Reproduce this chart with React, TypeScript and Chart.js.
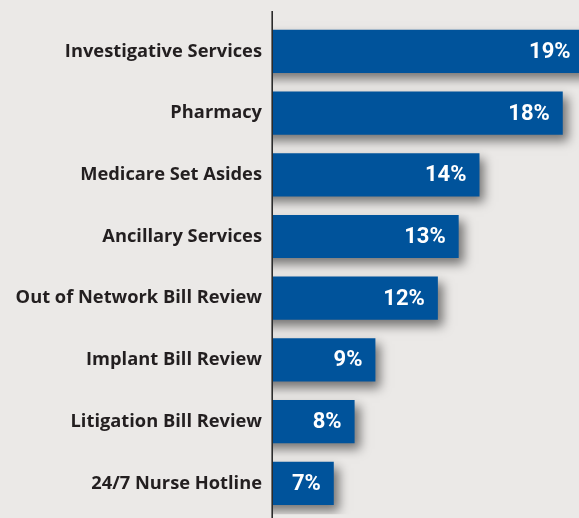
import React, { useEffect, useRef } from "react";
import { Chart, registerables } from "chart.js";

Chart.register(...registerables);

const categories = [
  "Investigative Services",
  "Pharmacy",
  "Medicare Set Asides",
  "Ancillary Services",
  "Out of Network Bill Review",
  "Implant Bill Review",
  "Litigation Bill Review",
  "24/7 Nurse Hotline",
];
const values = [19, 18, 14, 13, 12, 9, 8, 7];
const valueLabels = ["19%", "18%", "14%", "13%", "12%", "9%", "8%", "7%"];

const BG = "#ebe9e7";
const BAR = "#00539b";

export default function App() {
  const ref = useRef<HTMLCanvasElement | null>(null);
  useEffect(() => {
    document.body.style.margin = "0";
    document.body.style.background = BG;
    const canvas = ref.current!;
    const shadowPlugin = {
      id: "shadow",
      beforeDatasetDraw(chart: any) {
        const ctx = chart.ctx;
        ctx.save();
        ctx.shadowColor = "rgba(0,0,0,0.5)";
        ctx.shadowBlur = 10;
        ctx.shadowOffsetX = 5;
        ctx.shadowOffsetY = 6;
      },
      afterDatasetDraw(chart: any) {
        chart.ctx.restore();
      },
    };
    const overlayPlugin = {
      id: "overlay",
      afterDraw(chart: any) {
        const ctx = chart.ctx;
        const area = chart.chartArea;
        ctx.save();
        ctx.strokeStyle = "#2b2b2b";
        ctx.lineWidth = 1.6;
        ctx.beginPath();
        ctx.moveTo(area.left - 0.8, 11);
        ctx.lineTo(area.left - 0.8, chart.height);
        ctx.stroke();
        const meta = chart.getDatasetMeta(0);
        ctx.fillStyle = "#ffffff";
        ctx.font = "bold 22px Roboto";
        ctx.textAlign = "right";
        ctx.textBaseline = "middle";
        meta.data.forEach((el: any, i: number) => {
          ctx.fillText(valueLabels[i], el.x - 13, el.y + 1);
        });
        ctx.restore();
      },
    };
    const chart = new Chart(canvas, {
      type: "bar",
      data: {
        labels: categories,
        datasets: [
          {
            data: values,
            backgroundColor: BAR,
            borderWidth: 0,
            barPercentage: 0.7,
            categoryPercentage: 1,
          },
        ],
      },
      options: {
        indexAxis: "y",
        animation: false,
        responsive: false,
        maintainAspectRatio: false,
        layout: { padding: { top: 20.5, bottom: 3.8, right: 0, left: 0 } },
        plugins: {
          legend: { display: false },
          tooltip: { enabled: false },
        },
        scales: {
          x: {
            display: false,
            min: 4.08,
            max: 18.78,
          },
          y: {
            grid: { display: false, drawTicks: false },
            border: { display: false },
            afterFit(scale: any) {
              scale.width = 273;
              scale.paddingTop = 0;
              scale.paddingBottom = 0;
            },
            ticks: {
              color: "#231f20",
              padding: 11,
              font: { family: "Open Sans", weight: "bold", size: 18.3 },
            },
          },
        },
      },
      plugins: [shadowPlugin, overlayPlugin],
    });
    return () => chart.destroy();
  }, []);
  return (
    <div style={{ position: "absolute", left: 0, top: 0, width: 579, height: 518, background: BG }}>
      <canvas ref={ref} width={579} height={518} style={{ display: "block" }} />
    </div>
  );
}
